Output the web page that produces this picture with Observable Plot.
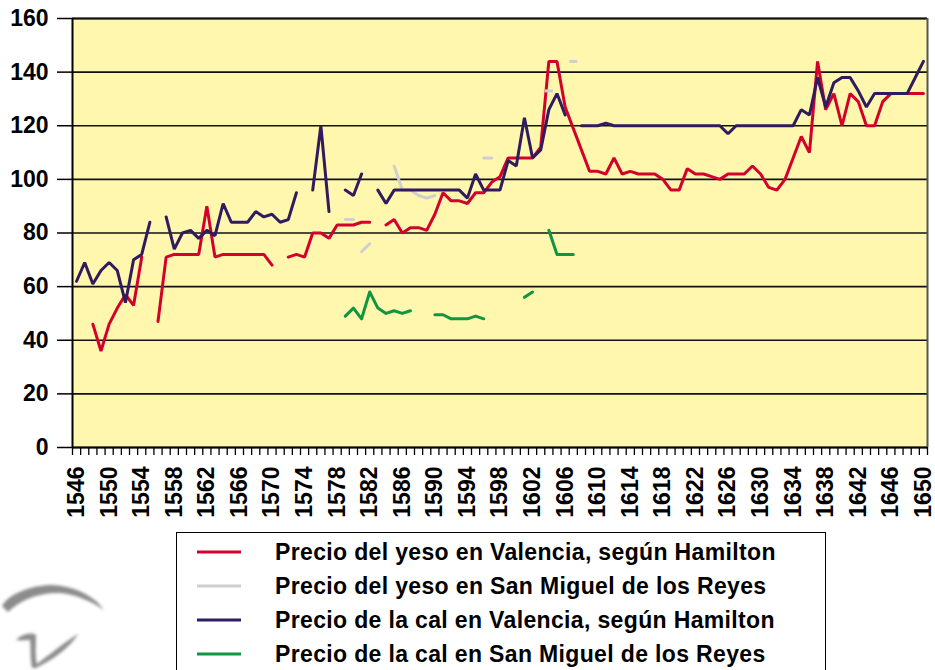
<!DOCTYPE html>
<html>
<head>
<meta charset="utf-8">
<script src="https://cdn.jsdelivr.net/npm/d3@7"></script>
<script src="https://cdn.jsdelivr.net/npm/@observablehq/plot@0.6"></script>
<style>
  html, body { margin: 0; padding: 0; background: #ffffff; }
  body { width: 935px; height: 670px; position: relative; overflow: hidden; font-family: "Liberation Sans", Arial, sans-serif; }
  #chart { position: absolute; left: 0; top: 0; }
  #legend { position: absolute; left: 176px; top: 532px; width: 650px; height: 160px; border: 1.5px solid #000; background: #fff; box-sizing: border-box; }
  .row { position: absolute; left: 0; height: 34px; display: flex; align-items: center; }
  .row svg { margin-left: 20px; margin-right: 34px; }
  .row span { font-weight: bold; font-size: 23px; letter-spacing: 0.35px; color: #000; white-space: nowrap; }
  #logo { position: absolute; left: 0; top: 560px; }
</style>
</head>
<body>
<div id="chart"></div>
<svg id="logo" width="180" height="110" viewBox="0 0 180 110">
  <defs><filter id="bl" x="-20%" y="-20%" width="140%" height="140%"><feGaussianBlur stdDeviation="1.6"/></filter></defs>
  <g filter="url(#bl)" fill="#8c8c8c">
    <path d="M2,46 C10,32 40,22 62,26 C80,29 96,38 104,50 C92,42 76,34 60,33 C40,32 20,40 8,52 Z"/>
    <path d="M16,80 C22,74 30,72 36,75 C36,86 35,96 37,104 C48,96 62,84 78,74 C70,88 52,100 36,108 L32,108 C30,98 31,88 30,80 C26,80 21,81 16,80 Z"/>
  </g>
</svg>
<div id="legend"></div>
<script>
// ---- categories & tick labels ----
const yTicks = [0, 20, 40, 60, 80, 100, 120, 140, 160];
const labelYears = [1546, 1550, 1554, 1558, 1562, 1566, 1570, 1574, 1578, 1582, 1586, 1590, 1594, 1598, 1602, 1606, 1610, 1614, 1618, 1622, 1626, 1630, 1634, 1638, 1642, 1646, 1650];
const firstYear = 1546, lastYear = 1650;

// ---- series (year, value); null = no data ----
const yesoValencia = [
  [1546,null],[1547,null],[1548,46],[1549,36],[1550,46],[1551,52],[1552,57],[1553,53],[1554,71],[1555,null],
  [1556,47],[1557,71],[1558,72],[1559,72],[1560,72],[1561,72],[1562,90],[1563,71],[1564,72],[1565,72],
  [1566,72],[1567,72],[1568,72],[1569,72],[1570,68],[1571,null],[1572,71],[1573,72],[1574,71],[1575,80],
  [1576,80],[1577,78],[1578,83],[1579,83],[1580,83],[1581,84],[1582,84],[1583,null],[1584,83],[1585,85],
  [1586,80],[1587,82],[1588,82],[1589,81],[1590,87],[1591,95],[1592,92],[1593,92],[1594,91],[1595,95],
  [1596,95],[1597,99],[1598,101],[1599,108],[1600,108],[1601,108],[1602,108],[1603,112],[1604,144],[1605,144],
  [1606,127],[1607,119],[1608,111],[1609,103],[1610,103],[1611,102],[1612,108],[1613,102],[1614,103],[1615,102],
  [1616,102],[1617,102],[1618,100],[1619,96],[1620,96],[1621,104],[1622,102],[1623,102],[1624,101],[1625,100],
  [1626,102],[1627,102],[1628,102],[1629,105],[1630,102],[1631,97],[1632,96],[1633,100],[1634,108],[1635,116],
  [1636,110],[1637,144],[1638,126],[1639,132],[1640,120],[1641,132],[1642,129],[1643,120],[1644,120],[1645,129],
  [1646,132],[1647,132],[1648,132],[1649,132],[1650,132]
];
const calValencia = [
  [1546,62],[1547,69],[1548,61],[1549,66],[1550,69],[1551,66],[1552,54],[1553,70],[1554,72],[1555,84],
  [1556,null],[1557,86],[1558,74],[1559,80],[1560,81],[1561,78],[1562,81],[1563,79],[1564,91],[1565,84],
  [1566,84],[1567,84],[1568,88],[1569,86],[1570,87],[1571,84],[1572,85],[1573,95],[1574,null],[1575,96],
  [1576,120],[1577,88],[1578,null],[1579,96],[1580,94],[1581,102],[1582,null],[1583,96],[1584,91],[1585,96],
  [1586,96],[1587,96],[1588,96],[1589,96],[1590,96],[1591,96],[1592,96],[1593,96],[1594,93],[1595,102],
  [1596,96],[1597,96],[1598,96],[1599,107],[1600,105],[1601,123],[1602,108],[1603,111],[1604,126],[1605,132],
  [1606,124],[1607,null],[1608,120],[1609,120],[1610,120],[1611,121],[1612,120],[1613,120],[1614,120],[1615,120],
  [1616,120],[1617,120],[1618,120],[1619,120],[1620,120],[1621,120],[1622,120],[1623,120],[1624,120],[1625,120],
  [1626,117],[1627,120],[1628,120],[1629,120],[1630,120],[1631,120],[1632,120],[1633,120],[1634,120],[1635,126],
  [1636,124],[1637,138],[1638,127],[1639,136],[1640,138],[1641,138],[1642,133],[1643,127],[1644,132],[1645,132],
  [1646,132],[1647,132],[1648,132],[1649,138],[1650,144]
];
// San Miguel de los Reyes: (year, value, piece)
const yesoSanMiguel = [
  [1579,85,"a"],[1580,85,"a"],
  [1581,73,"b"],[1582,76,"b"],
  [1585,105,"c"],[1586,96,"c"],[1587,96,"c"],[1588,94,"c"],[1589,93,"c"],[1590,94,"c"],
  [1596,108,"d"],[1597,108,"d"]
];
const yesoSanMiguelSingle = [[1604,133],[1607,144]];
const calSanMiguel = [
  [1579,49],[1580,52],[1581,48],[1582,58],[1583,52],[1584,50],[1585,51],[1586,50],[1587,51],[1588,null],
  [1589,null],[1590,49.5],[1591,49.5],[1592,48],[1593,48],[1594,48],[1595,49],[1596,48],[1597,null],[1598,null],
  [1599,null],[1600,null],[1601,56],[1602,58],[1603,null],[1604,81],[1605,72],[1606,72],[1607,72]
];

const seriesNames = [
  "Precio del yeso en Valencia, según Hamilton",
  "Precio del yeso en San Miguel de los Reyes",
  "Precio de la cal en Valencia, según Hamilton",
  "Precio de la cal en San Miguel de los Reyes"
];
const seriesColors = ["#d4002c", "#cfcfcf", "#2f1b5e", "#0f9640"];

const rows = a => a.map(([year, value, piece]) => ({year, value, piece}));
const boundaries = d3.range(firstYear - 0.5, lastYear + 1, 1);

const dashSymbol = {
  draw(context, size) {
    const w = Math.sqrt(size) / 2;
    context.moveTo(-w, 0);
    context.lineTo(w, 0);
  }
};

const plot = Plot.plot({
  width: 935,
  height: 532,
  marginLeft: 72,
  marginRight: 8,
  marginTop: 18,
  marginBottom: 85,
  x: {domain: [firstYear - 0.5, lastYear + 0.5]},
  y: {domain: [0, 160]},
  style: {fontFamily: "'Liberation Sans', Arial, sans-serif", fontWeight: "bold", color: "#000", background: "transparent", overflow: "visible"},
  marks: [
    Plot.frame({fill: "#fff7ae", stroke: null}),
    Plot.ruleY(yTicks, {stroke: "#111", strokeWidth: 1.6}),
    Plot.line(rows(yesoValencia), {x: "year", y: "value", stroke: seriesColors[0], strokeWidth: 3, strokeLinejoin: "miter"}),
    Plot.line(rows(yesoSanMiguel), {x: "year", y: "value", z: "piece", stroke: seriesColors[1], strokeWidth: 3}),
    Plot.dot(rows(yesoSanMiguelSingle), {x: "year", y: "value", symbol: dashSymbol, r: 4.6, stroke: seriesColors[1], strokeWidth: 3, fill: "none"}),
    Plot.line(rows(calValencia), {x: "year", y: "value", stroke: seriesColors[2], strokeWidth: 3, strokeLinejoin: "miter"}),
    Plot.line(rows(calSanMiguel), {x: "year", y: "value", stroke: seriesColors[3], strokeWidth: 3}),
    Plot.ruleY([160], {stroke: "#111", strokeWidth: 2}),
    Plot.ruleX([lastYear + 0.5], {stroke: "#555", strokeWidth: 2}),
    Plot.ruleX([firstYear - 0.5], {stroke: "#000", strokeWidth: 2}),
    Plot.ruleY([0], {stroke: "#000", strokeWidth: 2}),
    Plot.axisY(yTicks, {tickSize: 15, tickPadding: 9, fontSize: 23, fontWeight: "bold", label: null, stroke: "#000", strokeWidth: 1.5}),
    Plot.axisX(boundaries, {tickSize: 8, tickFormat: () => "", label: null, strokeWidth: 1.3}),
    Plot.axisX(labelYears, {tickSize: 0, tickPadding: 19, tickRotate: -90, fontSize: 23, fontWeight: "bold", label: null, tickFormat: d => String(d)})
  ]
});
document.getElementById("chart").appendChild(plot);

// legend
const legend = document.getElementById("legend");
seriesNames.forEach((name, i) => {
  const row = document.createElement("div");
  row.className = "row";
  row.style.top = (2 + i * 34) + "px";
  const sw = d3.create("svg").attr("width", 44).attr("height", 6);
  sw.append("line").attr("x1", 0).attr("x2", 44).attr("y1", 3).attr("y2", 3)
    .attr("stroke", seriesColors[i]).attr("stroke-width", 3);
  row.appendChild(sw.node());
  const span = document.createElement("span");
  span.textContent = name;
  row.appendChild(span);
  legend.appendChild(row);
});
</script>
</body>
</html>
